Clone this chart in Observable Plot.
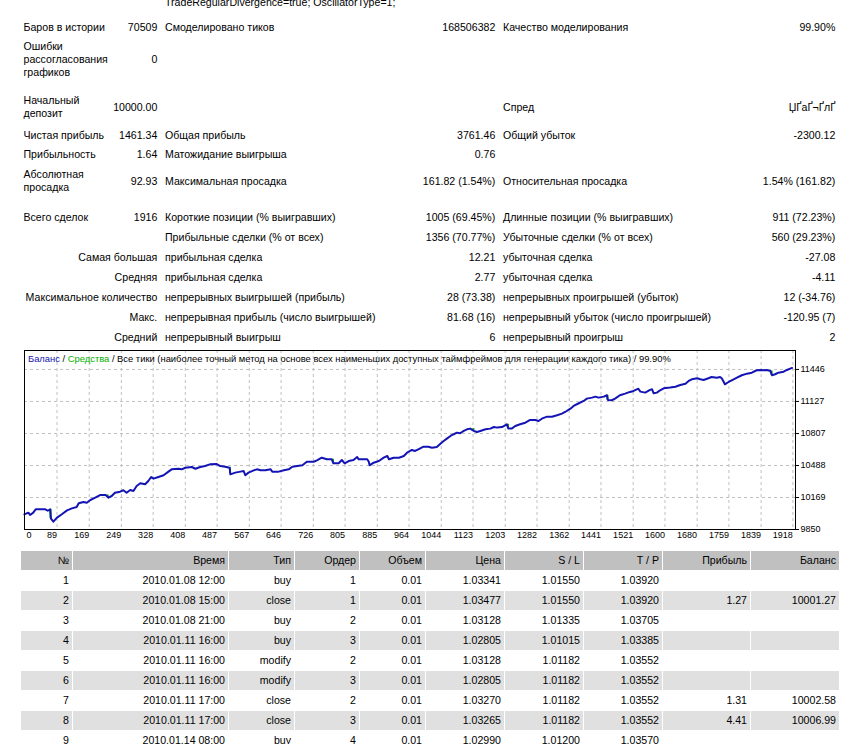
<!DOCTYPE html>
<html>
<head>
<meta charset="utf-8">
<script src="https://cdn.jsdelivr.net/npm/d3@7"></script>
<script src="https://cdn.jsdelivr.net/npm/@observablehq/plot@0.6"></script>
<style>
  html, body { margin: 0; padding: 0; background: #fff; }
  body {
    width: 854px; height: 744px; overflow: hidden; position: relative;
    font-family: "Liberation Sans", Arial, sans-serif; font-size: 10.6px; color: #000;
  }
  .t { position: absolute; white-space: nowrap; line-height: 13px; transform: translateY(-50%); }
  .r { text-align: right; }
  .wrap { white-space: normal; width: 88px; }
  #chart { position: absolute; left: 0; top: 340px; }
  #chart-title {
    position: absolute; left: 28px; top: 353px; font-size: 9.4px; line-height: 12px; white-space: nowrap; color: #000;
  }
  #chart-title .bal { color: #1414b4; }
  #chart-title .eq { color: #00b000; }
  table.trades {
    position: absolute; left: 20px; top: 550px; width: 820px;
    border-collapse: separate; border-spacing: 1px; table-layout: fixed;
  }
  table.trades td, table.trades th {
    box-sizing: border-box; padding: 0 3px; height: 19px; line-height: 19px;
    text-align: right; font-weight: normal; white-space: nowrap; overflow: hidden;
  }
  table.trades th { background: #c0c0c0; color: #000; }
  table.trades tr.alt td { background: #e0e0e0; }
</style>
</head>
<body>
<div id="stats"></div>
<div id="chart"></div>
<div id="chart-title"></div>
<table class="trades" id="trades"></table>
<script>
// ---- Test parameters line (top, partly scrolled off) ----
const paramsLine = "TradeRegularDivergence=true; OscillatorType=1;";

// ---- Summary report: label / value pairs, three column groups per row ----
const summaryRows = [
  ["Баров в истории", "70509", "Смоделировано тиков", "168506382", "Качество моделирования", "99.90%"],
  ["Ошибки рассогласования графиков", "0", "", "", "", ""],
  ["Начальный депозит", "10000.00", "", "", "Спред", "ЏҐаҐ¬ҐлҐ"],
  ["Чистая прибыль", "1461.34", "Общая прибыль", "3761.46", "Общий убыток", "-2300.12"],
  ["Прибыльность", "1.64", "Матожидание выигрыша", "0.76", "", ""],
  ["Абсолютная просадка", "92.93", "Максимальная просадка", "161.82 (1.54%)", "Относительная просадка", "1.54% (161.82)"],
  ["Всего сделок", "1916", "Короткие позиции (% выигравших)", "1005 (69.45%)", "Длинные позиции (% выигравших)", "911 (72.23%)"],
  ["", "", "Прибыльные сделки (% от всех)", "1356 (70.77%)", "Убыточные сделки (% от всех)", "560 (29.23%)"],
  ["Самая большая", "", "прибыльная сделка", "12.21", "убыточная сделка", "-27.08"],
  ["Средняя", "", "прибыльная сделка", "2.77", "убыточная сделка", "-4.11"],
  ["Максимальное количество", "", "непрерывных выигрышей (прибыль)", "28 (73.38)", "непрерывных проигрышей (убыток)", "12 (-34.76)"],
  ["Макс.", "", "непрерывная прибыль (число выигрышей)", "81.68 (16)", "непрерывный убыток (число проигрышей)", "-120.95 (7)"],
  ["Средний", "", "непрерывный выигрыш", "6", "непрерывный проигрыш", "2"]
];

// ---- Balance curve: trade number and account balance after it ----
const balanceTrades = [
  8, 18, 22, 30, 36, 60, 66, 72, 74, 80, 89, 101, 114, 126, 138, 143, 155, 163, 172, 184,
  196, 210, 217, 225, 233, 246, 254, 262, 271, 279, 287, 296, 308, 316, 323, 329, 341, 354, 366, 374,
  391, 399, 408, 424, 433, 445, 457, 469, 486,
  495, 507, 518, 520, 532, 545, 553, 557, 565, 578, 586, 595, 607, 620, 624, 640, 653, 665, 674, 686,
  699, 710, 727, 735, 747, 760, 772, 776, 789, 797, 804, 814, 826, 835, 839, 860, 864, 866, 876, 889,
  901, 910, 914, 926, 939, 951, 959,
  971, 979, 987, 1000, 1012, 1021, 1033, 1042, 1050, 1058, 1067, 1075, 1083, 1091, 1100, 1108, 1116, 1125, 1133, 1141,
  1154, 1166, 1175, 1183, 1195, 1207, 1211, 1219, 1228, 1240, 1253, 1265, 1278, 1286, 1294, 1307, 1319, 1332, 1344, 1352,
  1365, 1373, 1386, 1398, 1406, 1419, 1427, 1435, 1448,
  1456, 1458, 1468, 1476, 1488, 1501, 1513, 1522, 1534, 1539, 1551, 1563, 1568, 1572, 1580, 1588, 1597, 1613, 1626, 1638,
  1651, 1659, 1667, 1680, 1688, 1696, 1708, 1716, 1729, 1737, 1741, 1745, 1749, 1758, 1766, 1779, 1791, 1804, 1816, 1828,
  1837, 1845, 1853, 1862, 1866, 1874, 1882, 1895, 1903, 1916
];
const balanceValues = [
  10000, 10018, 9995, 10018, 10051, 10051, 10037, 10051, 9958, 9928, 9968, 10002, 10041, 10061, 10074, 10111, 10124, 10117, 10144, 10167,
  10194, 10194, 10167, 10184, 10217, 10227, 10241, 10217, 10244, 10234, 10284, 10311, 10301, 10334, 10374, 10357, 10374, 10391, 10427, 10450,
  10456, 10450, 10466, 10473, 10456, 10473, 10483, 10500, 10503,
  10483, 10476, 10466, 10400, 10417, 10427, 10433, 10391, 10417, 10440, 10450, 10440, 10440, 10450, 10427, 10427, 10440, 10450, 10476, 10483,
  10490, 10526, 10526, 10540, 10566, 10550, 10550, 10510, 10510, 10543, 10510, 10533, 10543, 10573, 10550, 10550, 10526, 10490, 10516, 10533,
  10566, 10583, 10550, 10566, 10566, 10583, 10616,
  10643, 10633, 10650, 10676, 10676, 10666, 10673, 10706, 10733, 10756, 10783, 10800, 10816, 10810, 10833, 10849, 10856, 10833, 10823, 10833,
  10849, 10856, 10872, 10866, 10872, 10899, 10856, 10856, 10882, 10899, 10915, 10942, 10942, 10932, 10955, 10975, 10975, 10989, 11005, 11022,
  11055, 11082, 11109, 11132, 11155, 11165, 11175, 11165, 11175,
  11189, 11142, 11139, 11155, 11189, 11205, 11222, 11232, 11254, 11225, 11215, 11242, 11248, 11208, 11215, 11238, 11258, 11265, 11274, 11291,
  11304, 11331, 11348, 11358, 11348, 11341, 11358, 11371, 11364, 11371, 11358, 11331, 11298, 11321, 11338, 11364, 11388, 11404, 11414, 11438,
  11441, 11438, 11441, 11431, 11388, 11398, 11414, 11424, 11441, 11461.34
];

// ---- Equity drawdowns that show below the balance line ----
const equityTrades = [73, 215, 519, 775, 1124, 1210, 1457, 1865];
const equityHigh   = [10051, 10194, 10466, 10550, 10856, 10899, 11189, 11431];
const equityLow    = [9960, 10167, 10402, 10510, 10835, 10856, 11142, 11388];

// ---- Axis ticks ----
const xTickLabels = [0, 89, 169, 249, 328, 408, 487, 567, 646, 726, 805, 885, 964, 1044, 1123, 1203, 1282, 1362, 1441, 1521, 1600, 1680, 1759, 1839, 1918];
const yTickLabels = [9850, 10169, 10488, 10807, 11127, 11446];

// ---- Chart header ----
const titleBalance = "Баланс";
const titleEquity = "Средства";
const titleRest = "Все тики (наиболее точный метод на основе всех наименьших доступных таймфреймов для генерации каждого тика)";
const titleQuality = "99.90%";

// ---- Trade log ----
const tradeHeader = ["№", "Время", "Тип", "Ордер", "Объем", "Цена", "S / L", "T / P", "Прибыль", "Баланс"];
const tradeRows = [
  ["1", "2010.01.08 12:00", "buy", "1", "0.01", "1.03341", "1.01550", "1.03920", "", ""],
  ["2", "2010.01.08 15:00", "close", "1", "0.01", "1.03477", "1.01550", "1.03920", "1.27", "10001.27"],
  ["3", "2010.01.08 21:00", "buy", "2", "0.01", "1.03128", "1.01335", "1.03705", "", ""],
  ["4", "2010.01.11 16:00", "buy", "3", "0.01", "1.02805", "1.01015", "1.03385", "", ""],
  ["5", "2010.01.11 16:00", "modify", "2", "0.01", "1.03128", "1.01182", "1.03552", "", ""],
  ["6", "2010.01.11 16:00", "modify", "3", "0.01", "1.02805", "1.01182", "1.03552", "", ""],
  ["7", "2010.01.11 17:00", "close", "2", "0.01", "1.03270", "1.01182", "1.03552", "1.31", "10002.58"],
  ["8", "2010.01.11 17:00", "close", "3", "0.01", "1.03265", "1.01182", "1.03552", "4.41", "10006.99"],
  ["9", "2010.01.14 08:00", "buy", "4", "0.01", "1.02990", "1.01200", "1.03570", "", ""]
];

// ================= layout =================
const PAGE_W = 854;
const summaryRowCenters = [26.7, 59.3, 107.3, 135, 154.3, 180.7, 216.7, 236.7, 256.7, 276.7, 296.7, 316.7, 336.7];
const colLeft = [23.5, 165, 503];      // label starts
const colRight = [157.3, 495.3, 835.3]; // value ends

const stats = document.getElementById("stats");
function put(text, y, opts) {
  if (!text) return;
  const d = document.createElement("div");
  d.className = "t" + (opts.cls ? " " + opts.cls : "");
  d.textContent = text;
  d.style.top = y + "px";
  if (opts.left != null) d.style.left = opts.left + "px";
  if (opts.right != null) { d.style.right = (PAGE_W - opts.right) + "px"; d.classList.add("r"); }
  stats.appendChild(d);
}

put(paramsLine, 2.2, {left: colLeft[1]});

summaryRows.forEach((row, i) => {
  const y = summaryRowCenters[i];
  const [l1, v1, l2, v2, l3, v3] = row;
  if (l1 && !v1) put(l1, y, {right: colRight[0]});
  else put(l1, y, {left: colLeft[0], cls: "wrap"});
  put(v1, y, {right: colRight[0]});
  put(l2, y, {left: colLeft[1]});
  put(v2, y, {right: colRight[1]});
  put(l3, y, {left: colLeft[2]});
  put(v3, y, {right: colRight[2]});
});

// ---- chart header text ----
const title = document.getElementById("chart-title");
title.innerHTML = "";
const sp = (cls, txt) => { const s = document.createElement("span"); if (cls) s.className = cls; s.textContent = txt; title.appendChild(s); };
sp("bal", titleBalance);
sp("", " / ");
sp("eq", titleEquity);
sp("", " / " + titleRest + " / " + titleQuality);

// ---- balance chart ----
const balance = balanceTrades.map((t, i) => ({trade: t, balance: balanceValues[i]}));
const equityDips = equityTrades.map((t, i) => ({trade: t, high: equityHigh[i], low: equityLow[i]}));
const xGrid = xTickLabels.slice(1);

const chart = Plot.plot({
  width: 854,
  height: 210,
  marginLeft: 24,
  marginRight: 59,
  marginTop: 10,
  marginBottom: 21,
  style: {background: "transparent", fontFamily: "'Liberation Sans', Arial, sans-serif", fontSize: "9px", color: "#000"},
  x: {domain: [8.25, 1924.5], axis: null},
  y: {
    domain: [9850, 11635],
    axis: "right",
    ticks: yTickLabels,
    tickSize: 3,
    tickPadding: 2,
    tickFormat: d => String(d),
    label: null
  },
  marks: [
    Plot.ruleX(xGrid, {x: d => d, stroke: "#c0c0c0", strokeOpacity: 1, strokeDasharray: "3,3"}),
    Plot.ruleY(yTickLabels.slice(1), {y: d => d, stroke: "#c0c0c0", strokeOpacity: 1, strokeDasharray: "3,3"}),
    Plot.ruleX(equityDips, {x: "trade", y1: "high", y2: "low", stroke: "#00b000", strokeWidth: 2}),
    Plot.line(balance, {x: "trade", y: "balance", stroke: "#1414b4", strokeWidth: 2}),
    Plot.frame({stroke: "#000", strokeWidth: 1}),
    Plot.text(xGrid, {x: d => d, text: d => String(d), frameAnchor: "bottom", dy: 8, textAnchor: "end", fill: "#000"}),
    Plot.text(xTickLabels.slice(0, 1), {text: d => String(d), frameAnchor: "bottom-left", dx: 2, dy: 8, textAnchor: "start", fill: "#000"})
  ]
});
document.getElementById("chart").appendChild(chart);

// ---- trade log table ----
const table = document.getElementById("trades");
const colWidths = [51, 155, 65, 64, 65, 78, 78, 78, 87, 88];
const colgroup = document.createElement("colgroup");
colWidths.forEach(w => { const c = document.createElement("col"); c.style.width = w + "px"; colgroup.appendChild(c); });
table.appendChild(colgroup);
const thead = document.createElement("tr");
tradeHeader.forEach(h => { const th = document.createElement("th"); th.textContent = h; thead.appendChild(th); });
table.appendChild(thead);
tradeRows.forEach((r, i) => {
  const tr = document.createElement("tr");
  if (i % 2 === 1) tr.className = "alt";
  r.forEach(v => { const td = document.createElement("td"); td.textContent = v; tr.appendChild(td); });
  table.appendChild(tr);
});
</script>
</body>
</html>
